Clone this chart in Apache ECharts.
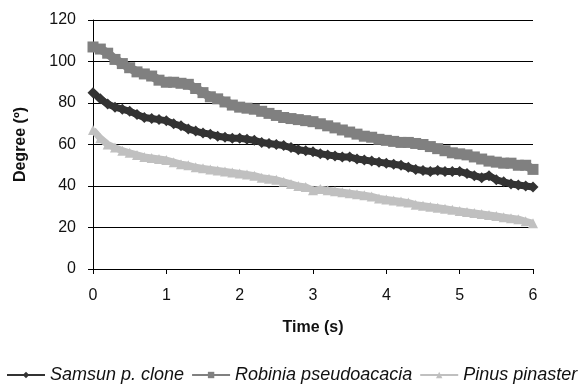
<!DOCTYPE html>
<html>
<head>
<meta charset="utf-8">
<script src="https://cdn.jsdelivr.net/npm/echarts@6/dist/echarts.min.js"></script>
<style>
  html, body { margin: 0; padding: 0; background: #fff; }
  #main { width: 582px; height: 385px; }
</style>
</head>
<body>
<div id="main"></div>
<script>
// time axis, 0.1 s steps
var times = [];
for (var i = 0; i <= 60; i++) times.push(i / 10);

var samsun = [85, 82, 79.5, 78, 77, 76, 74.5, 73, 72.5, 72,
  71.5, 70, 69, 67.5, 66.5, 65.5, 65, 64, 63.5, 63,
  63, 62.5, 62, 61, 60.5, 60, 59.5, 58.5, 57.5, 57,
  56.5, 55.5, 55, 54.5, 54, 54, 53, 52.5, 52, 51.5,
  51, 50.5, 50, 49, 48, 47.5, 47, 47.5, 47, 47,
  47, 46, 45, 44, 45, 43, 42, 41, 40.5, 40, 39.5];

var robinia = [107, 106, 104, 101, 99, 97, 95, 94, 93, 91,
  90, 90, 89.5, 89, 87, 85, 83, 82, 80.5, 79,
  78, 77.5, 77, 76, 75, 74, 73, 72.5, 72, 71.5,
  71, 70, 69, 68, 67, 66, 65, 64, 63.5, 62.5,
  62, 61.5, 61, 61, 60.5, 60, 59, 58, 57, 56,
  55.5, 55, 54, 53, 52, 51.5, 51, 51, 50, 50, 48];

var pinus = [67, 63, 60, 58.5, 57, 56, 55, 54, 53.5, 53,
  52.5, 51.5, 50.5, 50, 49, 48.5, 48, 47.5, 47, 46.5,
  46, 45.5, 45, 44, 43.5, 43, 42, 41, 40, 39.5,
  38, 38.5, 38, 37.5, 37, 36.5, 36, 35.5, 35, 34,
  33.5, 33, 32.5, 32, 31, 30.5, 30, 29.5, 29, 28.5,
  28, 27.5, 27, 26.5, 26, 25.5, 25, 24.5, 24, 23, 22];

var names = ['Samsun p. clone', 'Robinia pseudoacacia', 'Pinus pinaster'];

function pairs(ys) {
    var out = [];
    for (var i = 0; i < ys.length; i++) out.push([times[i], ys[i]]);
    return out;
}

var font = 'Liberation Sans, Arial, sans-serif';

var myChart = echarts.init(document.getElementById('main'));
var option = {
    animation: false,
    backgroundColor: '#fff',
    grid: { left: 93, right: 49, top: 20, bottom: 116, containLabel: false },
    legend: {
        data: names,
        left: 6,
        top: 366,
        width: 576,
        padding: 0,
        itemWidth: 38,
        itemHeight: 8,
        itemGap: 7,
        lineStyle: { width: 2 },
        textStyle: { fontFamily: font, fontSize: 18, fontStyle: 'italic', color: '#111' }
    },
    xAxis: {
        type: 'value',
        min: 0, max: 6, interval: 1,
        name: 'Time (s)',
        nameLocation: 'middle',
        nameGap: 51,
        nameTextStyle: { fontFamily: font, fontSize: 16, fontWeight: 'bold', color: '#111' },
        axisLine: { lineStyle: { color: '#000', width: 1 } },
        axisTick: { show: true, length: 5, lineStyle: { color: '#000' } },
        axisLabel: { fontFamily: font, fontSize: 16, color: '#111', margin: 19 },
        splitLine: { show: false }
    },
    yAxis: {
        type: 'value',
        min: 0, max: 120, interval: 20,
        name: 'Degree (º)',
        nameLocation: 'middle',
        nameRotate: 90,
        nameGap: 64,
        nameTextStyle: { fontFamily: font, fontSize: 16, fontWeight: 'bold', color: '#111' },
        axisLine: { show: true, lineStyle: { color: '#000', width: 1 } },
        axisTick: { show: true, length: 5, lineStyle: { color: '#000' } },
        axisLabel: { fontFamily: font, fontSize: 16, color: '#111', margin: 17 },
        splitLine: { show: true, lineStyle: { color: '#000', width: 1 } }
    },
    series: [
        {
            name: names[0],
            type: 'line',
            data: pairs(samsun),
            symbol: 'diamond',
            symbolSize: 11,
            z: 4,
            itemStyle: { color: '#333333' },
            lineStyle: { color: '#333333', width: 7 }
        },
        {
            name: names[1],
            type: 'line',
            data: pairs(robinia),
            symbol: 'rect',
            symbolSize: 11,
            z: 3,
            itemStyle: { color: '#808080' },
            lineStyle: { color: '#808080', width: 9 }
        },
        {
            name: names[2],
            type: 'line',
            data: pairs(pinus),
            symbol: 'triangle',
            symbolSize: 10,
            z: 2,
            itemStyle: { color: '#c0c0c0' },
            lineStyle: { color: '#c0c0c0', width: 7 }
        }
    ]
};
myChart.setOption(option);
</script>
</body>
</html>
